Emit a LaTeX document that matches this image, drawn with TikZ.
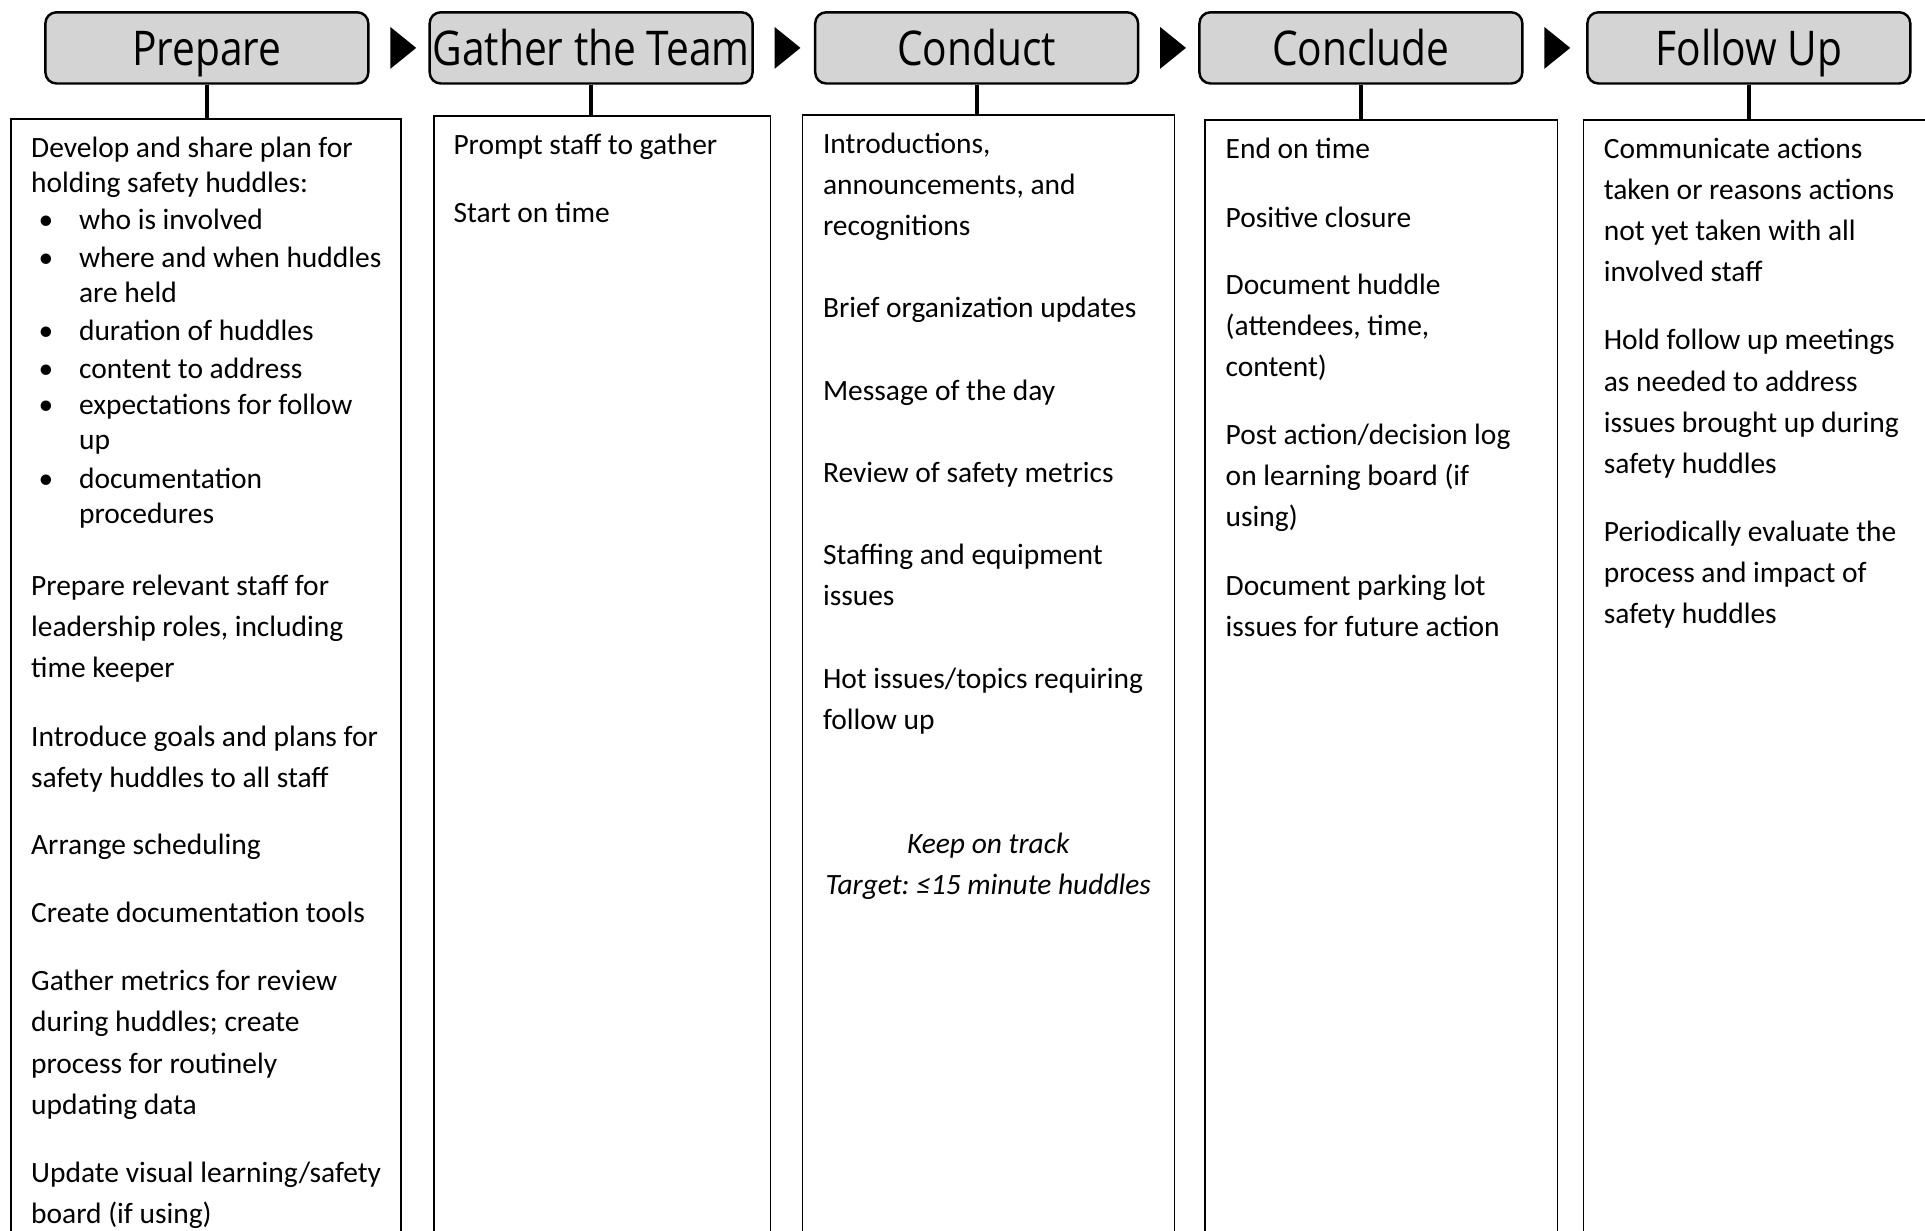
\documentclass[tikz,border=0pt]{standalone}
\usepackage{fontspec}
\setmainfont{Carlito}
\newfontfamily\headfont[FakeStretch=0.85]{Open Sans}
\usetikzlibrary{calc}
\definecolor{hgray}{RGB}{212,212,212}
\newcommand\bodyfont{\fontsize{12pt}{16.75pt}\selectfont}
\newcommand\mypar[1]{\parbox[t]{220pt}{\raggedright #1}}
\newcommand\tightpar[1]{\parbox[t]{220pt}{\fontsize{12pt}{14.25pt}\selectfont\raggedright #1}}
\newcommand\bitem[1]{\parbox[t]{220pt}{\fontsize{12pt}{14.25pt}\selectfont\hangindent=19.5pt\hangafter=1\noindent\makebox[19.5pt][l]{\hspace{3pt}\textbullet}#1}}
\begin{document}
\begin{tikzpicture}[x=0.5pt,y=-0.5pt,
  hbox/.style={draw, line width=1pt, rounded corners=4.5pt, fill=hgray,
    minimum width=131.5pt, minimum height=29pt, inner sep=0,
    text height=17pt, text depth=3pt,
    font=\headfont\fontsize{19.5pt}{20pt}\selectfont},
  cbox/.style={draw, line width=0.7pt, anchor=north west, minimum height=500pt, inner sep=0},
  stem/.style={line width=1.7pt},
  tri/.style={fill=black},
  txt/.style={anchor=base west, inner sep=0, yshift=-1pt, font=\bodyfont}]
\useasboundingbox (0,0) rectangle (1568,1002);
\begin{scope}
\clip (0,0) rectangle (1568,1002);
% header boxes
\node[hbox] (h1) at (168.5,39) {Prepare};
\node[hbox] (h2) at (481.5,39) {Gather the Team};
\node[hbox] (h3) at (795.5,39) {Conduct};
\node[hbox] (h4) at (1108.5,39) {Conclude};
\node[hbox] (h5) at (1424.5,39) {Follow Up};
% content boxes
\node[cbox, minimum width=159pt] (c1) at (8,96) {};
\node[cbox, minimum width=137pt] (c2) at (353,94) {};
\node[cbox, minimum width=151.5pt] (c3) at (653,93) {};
\node[cbox, minimum width=143.5pt] (c4) at (981,97) {};
\node[cbox, minimum width=150pt] (c5) at (1289,97) {};
% stems
\foreach \i in {1,...,5} \draw[stem] (h\i.south) -- (h\i.south |- c\i.north);
% triangles
\foreach \i in {1,...,4} \fill[tri] ($(h\i.east)+(17,-17)$) -- ++(21,17) -- ++(-21,17) -- cycle;
% Prepare
\node[txt] (p1) at (25,126) {\tightpar{Develop and share plan for\\holding safety huddles:}};
\node[txt] (b1) at (25,185) {\bitem{who is involved}};
\node[txt] (b2) at (25,216) {\bitem{where and when huddles\\are held}};
\node[txt] (b3) at (25,275) {\bitem{duration of huddles}};
\node[txt] (b4) at (25,306) {\bitem{content to address}};
\node[txt] (b5) at (25,336) {\bitem{expectations for follow\\up}};
\node[txt] (b6) at (25,396) {\bitem{documentation\\procedures}};
\node[txt] (p2) at (25,483) {\mypar{Prepare relevant staff for\\leadership roles, including\\time keeper}};
\node[txt] (p3) at (25,606) {\mypar{Introduce goals and plans for\\safety huddles to all staff}};
\node[txt] (p4) at (25,694) {\mypar{Arrange scheduling}};
\node[txt] (p5) at (25,749) {\mypar{Create documentation tools}};
\node[txt] (p6) at (25,805) {\mypar{Gather metrics for review\\during huddles; create\\process for routinely\\updating data}};
\node[txt] (p7) at (25,961) {\mypar{Update visual learning/safety\\board (if using)}};
% Gather
\node[txt] (g1) at (369,124) {\mypar{Prompt staff to gather}};
\node[txt] (g2) at (369,179) {\mypar{Start on time}};
% Conduct
\node[txt] (k1) at (670,123) {\mypar{Introductions,\\announcements, and\\recognitions}};
\node[txt] (k2) at (670,257) {\mypar{Brief organization updates}};
\node[txt] (k3) at (670,324) {\mypar{Message of the day}};
\node[txt] (k4) at (670,391) {\mypar{Review of safety metrics}};
\node[txt] (k5) at (670,458) {\mypar{Staffing and equipment\\issues}};
\node[txt] (k6) at (670,559) {\mypar{Hot issues/topics requiring\\follow up}};
\node[txt, anchor=base] (k7) at (805,693) {\parbox[t]{150pt}{\centering\itshape Keep on track\\Target:~≤15 minute huddles}};
% Conclude
\node[txt] (e1) at (998,127) {\mypar{End on time}};
\node[txt] (e2) at (998,183) {\mypar{Positive closure}};
\node[txt] (e3) at (998,238) {\mypar{Document huddle\\(attendees, time,\\content)}};
\node[txt] (e4) at (998,360) {\mypar{Post action/decision log\\on learning board (if\\using)}};
\node[txt] (e5) at (998,483) {\mypar{Document parking lot\\issues for future action}};
% Follow Up
\node[txt] (f1) at (1306,127) {\mypar{Communicate actions\\taken or reasons actions\\not yet taken with all\\involved staff}};
\node[txt] (f2) at (1306,283) {\mypar{Hold follow up meetings\\as needed to address\\issues brought up during\\safety huddles}};
\node[txt] (f3) at (1306,439) {\mypar{Periodically evaluate the\\process and impact of\\safety huddles}};
\end{scope}
\end{tikzpicture}
\end{document}
